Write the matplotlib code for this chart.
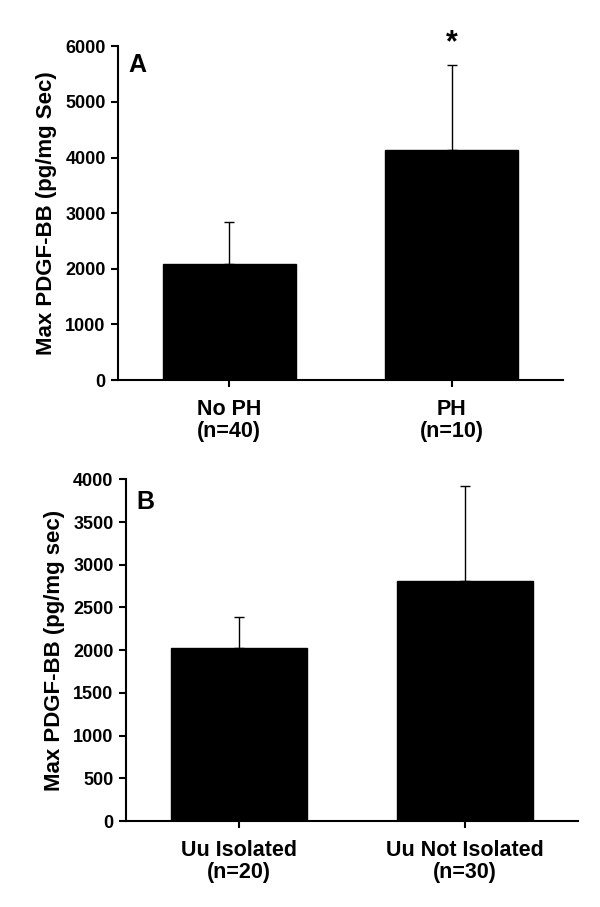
import matplotlib
matplotlib.use("Agg")
import matplotlib.pyplot as plt

plt.rcParams['font.family'] = ['Liberation Sans', 'DejaVu Sans']
plt.rcParams['font.weight'] = 'bold'

# Panel A data
cats_a = ["No PH\n(n=40)", "PH\n(n=10)"]
vals_a = [2080, 4140]
err_a = [760, 1530]
yticks_a = [0, 1000, 2000, 3000, 4000, 5000, 6000]

# Panel B data
cats_b = ["Uu Isolated\n(n=20)", "Uu Not Isolated\n(n=30)"]
vals_b = [2025, 2805]
err_b = [365, 1115]
yticks_b = [0, 500, 1000, 1500, 2000, 2500, 3000, 3500, 4000]

fig = plt.figure(figsize=(6.0, 9.07), dpi=100)
axA = fig.add_axes([0.197, 0.581, 0.741, 0.368])
axB = fig.add_axes([0.210, 0.0948, 0.753, 0.3767])

def style(ax, cats, vals, errs, yticks, ylabel, letter, ly):
    x = list(range(len(cats)))
    ax.bar(x, vals, width=0.6, color='black', edgecolor='black', zorder=2)
    ax.errorbar(x, vals, yerr=[[0]*len(errs), errs], fmt='none', ecolor='black',
                elinewidth=1.0, capsize=3.5, capthick=1.0, zorder=1)
    ax.set_xlim(-0.5, 1.5)
    ax.set_ylim(yticks[0], yticks[-1])
    ax.set_yticks(yticks)
    ax.set_yticklabels([str(t) for t in yticks], fontsize=13, fontweight='bold')
    ax.set_xticks(x)
    ax.set_xticklabels(cats, fontsize=15.5, fontweight='bold', linespacing=1.05)
    for s in ['top', 'right']:
        ax.spines[s].set_visible(False)
    for s in ['left', 'bottom']:
        ax.spines[s].set_linewidth(1.5)
    ax.tick_params(axis='both', direction='out', length=5, width=1.5, pad=4)
    ax.tick_params(axis='x', pad=9)
    ax.set_ylabel(ylabel, fontsize=16, fontweight='bold', labelpad=6)
    ax.text(0.022, ly, letter, transform=ax.transAxes, fontsize=18,
            fontweight='bold', va='top', ha='left')

style(axA, cats_a, vals_a, err_a, yticks_a, "Max PDGF-BB (pg/mg Sec)", "A", 0.98)
style(axB, cats_b, vals_b, err_b, yticks_b, "Max PDGF-BB (pg/mg sec)", "B", 0.97)

axA.text(1, vals_a[1] + err_a[1] + 380, "*", ha='center', va='center',
         fontsize=22, fontweight='bold', clip_on=False)

fig.savefig("out.png", dpi=100)
